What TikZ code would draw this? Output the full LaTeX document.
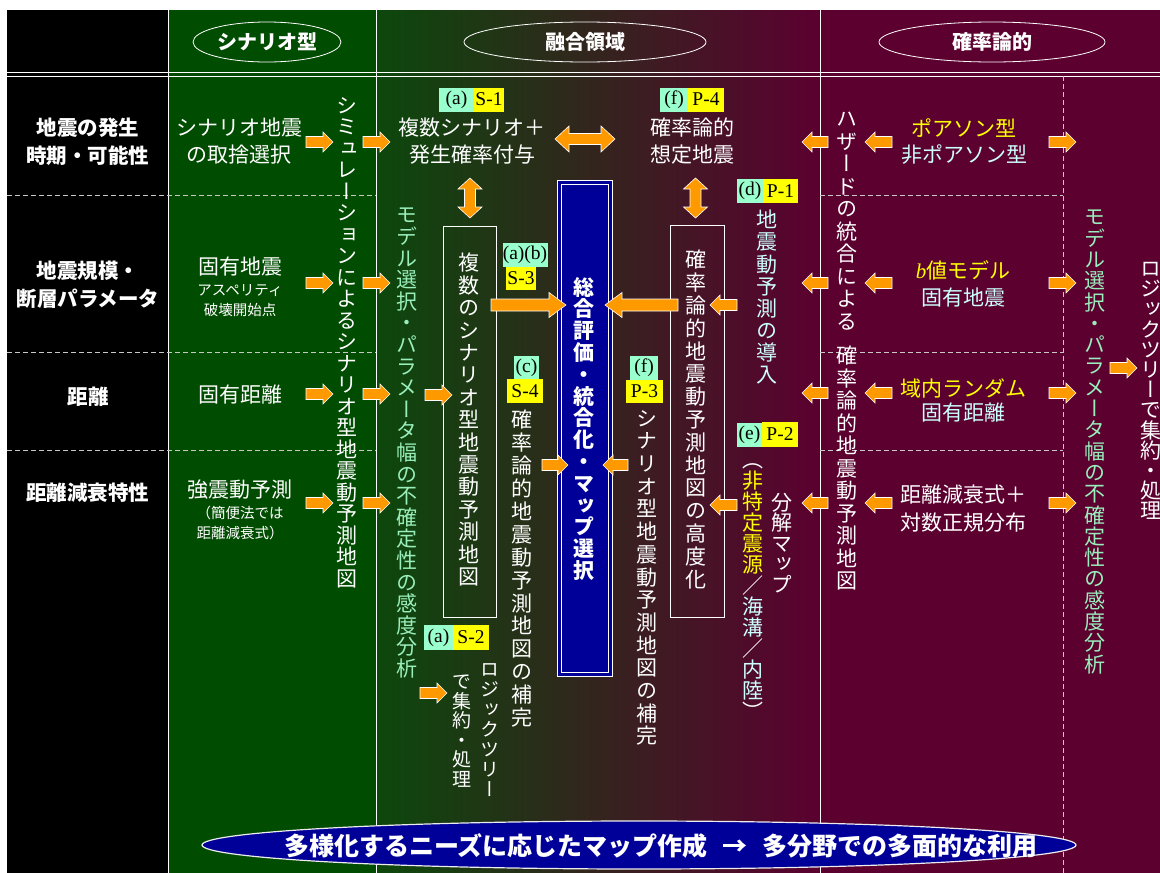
\documentclass[tikz,border=0pt]{standalone}
\usepackage{fontspec}
\setmainfont{Noto Sans CJK JP}
\newfontfamily\vjp[RawFeature=+vert]{Noto Sans CJK JP}
\newfontfamily\lblserif{Liberation Serif}
\usetikzlibrary{shapes.geometric}
\definecolor{cgreen}{HTML}{004C00}
\definecolor{cmidL}{HTML}{0C480C}
\definecolor{cmaroon}{HTML}{5C0030}
\definecolor{cblue}{HTML}{000099}
\definecolor{orng}{HTML}{FF9900}
\definecolor{ylw}{HTML}{FFFF00}
\definecolor{cy}{HTML}{CCFFFF}
\definecolor{tgreen}{HTML}{99EEBB}
\definecolor{lgbg}{HTML}{99FFCC}
\definecolor{dgray}{HTML}{C8C8C8}
\makeatletter
\newcommand\vtx[2]{\vbox{\baselineskip=#1pt\lineskiplimit=-200pt\lineskip=0pt\@tfor\vch:=#2\do{\hbox to 1em{\hss\vch\hss}}}}
\makeatother
\newcommand\harrx[6]{%
  \pgfmathsetmacro\hx{#2-(#6)*sign(#2-#1)}%
  \filldraw[blk] (#1,#3-#4) -- (\hx,#3-#4) -- (\hx,#3-#5) -- (#2,#3) -- (\hx,#3+#5) -- (\hx,#3+#4) -- (#1,#3+#4) -- cycle;}
\newcommand\harr[3]{\harrx{#1}{#2}{#3}{5.5}{10}{10}}
\newcommand\hdarr[3]{%
  \filldraw[blk] (#1,#3) -- (#1+14,#3-13) -- (#1+14,#3-5.5) -- (#2-14,#3-5.5) -- (#2-14,#3-13) -- (#2,#3) -- (#2-14,#3+13) -- (#2-14,#3+5.5) -- (#1+14,#3+5.5) -- (#1+14,#3+13) -- cycle;}
\newcommand\vdarr[3]{%
  \filldraw[blk] (#1,#2) -- (#1+12,#2+11) -- (#1+5.5,#2+11) -- (#1+5.5,#3-11) -- (#1+12,#3-11) -- (#1,#3) -- (#1-12,#3-11) -- (#1-5.5,#3-11) -- (#1-5.5,#2+11) -- (#1-12,#2+11) -- cycle;}
\begin{document}
\begin{tikzpicture}[x=1pt,y=-1pt,
  blk/.style={fill=orng,draw=white,line width=0.6pt},
  vline/.style={draw=white,line width=0.8pt},
  dline/.style={draw=dgray,line width=0.8pt,dash pattern=on 5pt off 3pt},
  hell/.style={ellipse,draw=white,line width=0.8pt,minimum height=40,inner sep=0,text=white,font=\bfseries\fontsize{20}{20}\selectfont},
  rowl/.style={text=white,align=center,inner sep=0,font=\bfseries\fontsize{20.5}{28}\selectfont},
  body/.style={text=white,align=center,inner sep=0,font=\fontsize{21}{27}\selectfont},
  small/.style={text=white,inner sep=0,font=\fontsize{14.5}{15}\selectfont},
  vt/.style={text=white,inner sep=0,anchor=north,font=\vjp\fontsize{21}{22}\selectfont},
  vtb/.style={text=white,inner sep=0,anchor=north,font=\vjp\bfseries\fontsize{21}{22}\selectfont},
  vts/.style={text=white,inner sep=0,anchor=north,font=\vjp\fontsize{19}{20}\selectfont},
  lbl/.style={text=black,inner sep=0,minimum height=24,font=\lblserif\fontsize{19.5}{19.5}\selectfont},
  vbox/.style={draw=white,line width=0.8pt,inner sep=0}]
\useasboundingbox (0,0) rectangle (1160,873);
% backgrounds
\fill[white] (0,0) rectangle (1160,873);
\fill[black] (7,10) rectangle (168,873);
\fill[cgreen] (168,10) rectangle (376,873);
\shade[left color=cmidL,right color=cmaroon] (376,10) rectangle (820,873);
\fill[cmaroon] (820,10) rectangle (1160,873);
% grid lines
\foreach \x in {168,376,820} \draw[vline] (\x,10) -- (\x,873);
\draw[vline] (7,72) -- (1160,72) (7,76) -- (1160,76);
\foreach \y in {195,352,450} {\draw[dline] (7,\y) -- (376,\y); \draw[dline] (820,\y) -- (1063,\y);}
\draw[dline] (1063,76) -- (1063,873);
% header
\node[hell,minimum width=148] (hS) at (267,42) {シナリオ型};
\node[hell,minimum width=242] (hF) at (585,42) {融合領域};
\node[hell,minimum width=226] (hP) at (992,42) {確率論的};
% row labels
\node[rowl] (r1) at (88,141.5) {地震の発生\\時期・可能性};
\node[rowl] (r2) at (88,285) {地震規模・\\断層パラメータ};
\node[rowl] (r3) at (88,397) {距離};
\node[rowl] (r4) at (88,493) {距離減衰特性};
% scenario column
\node[body] (s1) at (239,141.5) {シナリオ地震\\の取捨選択};
\node[body] (s2) at (240,267) {固有地震};
\node[small] (s2b) at (240,291) {アスペリティ};
\node[small] (s2c) at (240,310) {破壊開始点};
\node[body] (s3) at (240,395) {固有距離};
\node[body] (s4) at (240,490) {強震動予測};
\node[small] (s4b) at (240,513) {（簡便法では};
\node[small] (s4c) at (240,533) {距離減衰式）};
% fusion texts
\node[body] (fs) at (472,141.5) {複数シナリオ＋\\発生確率付与};
\node[body] (pe) at (692,141.5) {確率論的\\想定地震};
% probabilistic column
\node[body,text=ylw] (p1a) at (964,128) {ポアソン型};
\node[body,text=cy] (p1b) at (964,155) {非ポアソン型};
\node[body,text=ylw] (p2a) at (963,270) {{\lblserif\itshape b}値モデル};
\node[body,text=cy] (p2b) at (963,298) {固有地震};
\node[body,text=ylw] (p3a) at (963,388) {域内ランダム};
\node[body,text=cy] (p3b) at (963,413) {固有距離};
\node[body] (p4a) at (963,495) {距離減衰式＋};
\node[body] (p4b) at (963,523) {対数正規分布};
% boxes
\node[vbox,minimum width=53,minimum height=391] (b1) at (469.5,421.5) {};
\node[vbox,minimum width=54,minimum height=392] (b2) at (697,421) {};
\node[fill=cblue,draw=white,double=cblue,double distance=2.6pt,line width=1pt,minimum width=51.4,minimum height=492.4,inner sep=0] (ctr) at (585,428.5) {};
% arrows
\foreach \y in {142,283,394,503} {\harr{306}{333}{\y} \harr{363}{390}{\y}}
\harr{425}{452}{395}
\harr{542}{568}{465}
\harr{628}{603}{465}
\harr{737}{710}{305}
\harr{737}{710}{505}
\foreach \y in {142,283,393,503} {\harr{828}{802}{\y} \harr{892}{865}{\y} \harr{1049}{1076}{\y}}
\harr{1110}{1137}{368}
\harr{420}{447}{693}
\harrx{491}{566}{305}{6}{12.5}{17}
\harrx{678}{605}{305}{6}{12.5}{17}
\hdarr{555}{615}{139}
\vdarr{470}{178}{218}
\vdarr{695.5}{178}{218}
% vertical texts
\node[vt] (v1) at (347,97) {\vtx{21.5}{シミュレーションによるシナリオ型地震動予測地図}};
\node[vt,text=tgreen] (v2) at (407,208) {\vtx{21.6}{モデル選択・パラメータ幅の不確定性の感度分析}};
\node[vt] (v3) at (469,253) {\vtx{22.4}{複数のシナリオ型地震動予測地図}};
\node[vt] (v4) at (522,410) {\vtx{22.9}{確率論的地震動予測地図の補完}};
\node[vtb] (v5) at (584,277) {\vtx{21.8}{総合評価・統合化・マップ選択}};
\node[vt] (v6) at (647,410) {\vtx{22.7}{シナリオ型地震動予測地図の補完}};
\node[vt] (v7) at (696,250) {\vtx{22.8}{確率論的地震動予測地図の高度化}};
\node[vt,text=cy] (v8) at (767,210) {\vtx{22.1}{地震動予測の導入}};
\node[vt] (v9) at (753,463) {\vtx{21}{（{\color{ylw}非}{\color{ylw}特}{\color{ylw}定}{\color{ylw}震}{\color{ylw}源}／{\color{cy}海}{\color{cy}溝}／{\color{cy}内}{\color{cy}陸}）}};
\node[vt] (v10) at (782,493) {\vtx{20.5}{分解マップ}};
\node[vt] (v11a) at (847,112) {\vtx{22.5}{ハザードの統合による}};
\node[vt] (v11b) at (847,346) {\vtx{22.5}{確率論的地震動予測地図}};
\node[vt,text=tgreen] (v12) at (1095,210) {\vtx{21.3}{モデル選択・パラメータ幅の不確定性の感度分析}};
\node[vt] (v13) at (1151,262) {\vtx{20.2}{ロジックツリーで集約・処理}};
\node[vts] (v14) at (490,663) {\vtx{20}{ロジックツリー}};
\node[vts] (v15) at (462,675) {\vtx{19.5}{で集約・処理}};
% labels
\node[lbl,fill=lgbg,minimum width=35] (la1) at (456.5,99.5) {(a)};
\node[lbl,fill=ylw,minimum width=30] (la2) at (489,99.5) {S-1};
\node[lbl,fill=lgbg,minimum width=28] (lf1) at (674,99.5) {(f)};
\node[lbl,fill=ylw,minimum width=36] (lf2) at (706,99.5) {P-4};
\node[lbl,fill=lgbg,minimum width=45] (lab1) at (525,254.5) {(a)(b)};
\node[lbl,fill=ylw,minimum width=30,minimum height=23] (lab2) at (521,278.5) {S-3};
\node[lbl,fill=lgbg,minimum width=25,minimum height=23] (lc1) at (526.5,367.5) {(c)};
\node[lbl,fill=ylw,minimum width=36] (lc2) at (525,391) {S-4};
\node[lbl,fill=lgbg,minimum width=28] (lf3) at (644,368) {(f)};
\node[lbl,fill=ylw,minimum width=37,minimum height=23] (lf4) at (644.5,391.5) {P-3};
\node[lbl,fill=lgbg,minimum width=26] (ld1) at (750,191) {(d)};
\node[lbl,fill=ylw,minimum width=35] (ld2) at (780.5,191) {P-1};
\node[lbl,fill=lgbg,minimum width=25] (le1) at (749.5,435) {(e)};
\node[lbl,fill=ylw,minimum width=36,minimum height=25] (le2) at (780,434.5) {P-2};
\node[lbl,fill=lgbg,minimum width=29,minimum height=25] (ls1) at (438.5,637.5) {(a)};
\node[lbl,fill=ylw,minimum width=36,minimum height=25] (ls2) at (471,637.5) {S-2};
% bottom ellipse
\node[ellipse,draw=white!85!gray,fill=cblue,line width=1.2pt,minimum width=874,minimum height=48,inner sep=0] (bot) at (639,845) {};
\node[text=white,inner sep=0,font=\bfseries\fontsize{25}{25}\selectfont] (bott) at (661,846) {多様化するニーズに応じたマップ作成\hspace{0.6em}→\hspace{0.6em}多分野での多面的な利用};
\end{tikzpicture}
\end{document}
